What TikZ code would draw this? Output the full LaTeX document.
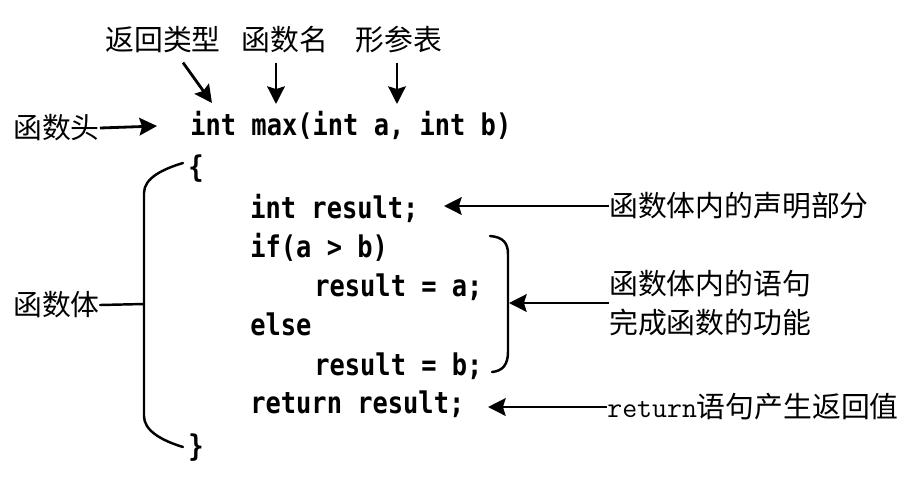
\documentclass[tikz,border=0pt]{standalone}
\usepackage{fontspec}
\newfontfamily\cjk{Noto Sans CJK SC}
\newfontfamily\codefont[FakeStretch=0.85]{DejaVu Sans Mono}
\usetikzlibrary{arrows.meta}

\begin{document}
\begin{tikzpicture}[x=0.02cm,y=-0.02cm]
\tikzset{codeline/.style={anchor=base west,inner sep=0pt,font=\codefont\bfseries\fontsize{17}{20}\selectfont}}
\tikzset{lbl/.style={inner sep=0pt,font=\cjk\fontsize{16.4}{22}\selectfont}}
\tikzset{arr/.style={line width=1.6pt,-{Stealth[length=10pt,width=10pt,inset=1.5pt]}}}
\tikzset{brace/.style={line width=1.4pt,line cap=round}}
\useasboundingbox (0,0) rectangle (910,478);

% the code
\foreach \n/\x/\y/\t in {chead/190/135/{int max(int a, int b)},
    copen/188/177/\{, cclose/188/456/\},
    cdecl/250/218/{int result;}, cif/250/257/{if(a > b)},
    cthen/314/296/{result = a;}, celse/250/335/{else},
    cels/314/375/{result = b;}, cret/250/413/{return result;}} {
\node[codeline] (\n) at (\x,\y) {\t};
}

% the labels
\node[lbl] (rettype) at (163,40) {返回类型};
\node[lbl] (fname) at (285,40) {函数名};
\node[lbl] (params) at (399,40) {形参表};
\node[lbl,anchor=east] (fhead) at (100,128) {函数头};
\node[lbl,anchor=east] (fbody) at (100,305) {函数体};
\node[lbl,anchor=west] (decl) at (609,206) {函数体内的声明部分};
\node[lbl,anchor=west,align=left] (stmt) at (609,303) {函数体内的语句\\完成函数的功能};
\node[lbl,anchor=west] (ret) at (607,407) {{\ttfamily\fontsize{16.5}{20}\selectfont return}语句产生返回值};

% arrow ends
\coordinate (rtend) at (212,103);
\coordinate (fnend) at (276,104);
\coordinate (pmend) at (397,104);
\coordinate (hdend) at (157,126);
\coordinate (dclend) at (444,206);
\coordinate (stend) at (509,303);
\coordinate (rtnend) at (488,407);

% the arrows
\draw[arr] ([shift={(20,9)}]rettype.south) -- (rtend);
\draw[arr] ([shift={(-9,9)}]fname.south) -- (fnend);
\draw[arr] ([shift={(-2,9)}]params.south) -- (pmend);
\draw[arr] (fhead.east) -- (hdend);
\draw[arr] (decl.west) -- (dclend);
\draw[arr] (stmt.west) -- (stend);
\draw[arr] (ret.west) -- (rtnend);

% left brace
\coordinate (lbmid) at (144,304);
\draw[brace] (183,163) .. controls (163,169) and (144,178) .. (144,193) -- (144,416) .. controls (144,430) and (160,440) .. (183,447);
\draw[brace] (fbody.east) -- (lbmid);

% right brace
\draw[brace] (490,236) .. controls (503,237) and (508,243) .. (508,254) -- (508,352) .. controls (508,364) and (503,371) .. (492,372);
\end{tikzpicture}
\end{document}
